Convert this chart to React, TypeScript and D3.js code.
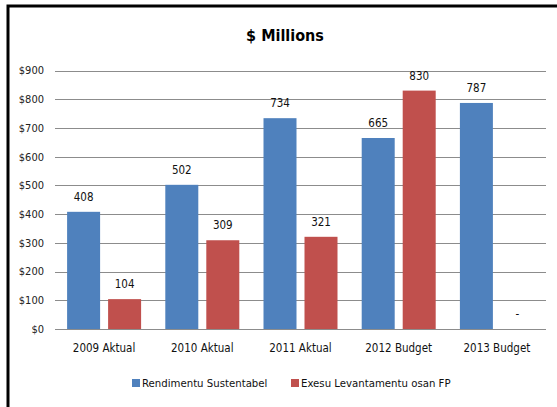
import React, { useEffect, useRef } from 'react';
import * as d3 from 'd3';

const categories = ['2009 Aktual', '2010 Aktual', '2011 Aktual', '2012 Budget', '2013 Budget'];
const seriesNames = ['Rendimentu Sustentabel', 'Exesu Levantamentu osan FP'];
const rendimentu = [408, 502, 734, 665, 787];
const exesu: (number | null)[] = [104, 309, 321, 830, null];
const yTicks = [0, 100, 200, 300, 400, 500, 600, 700, 800, 900];
const colors = ['#4F81BD', '#C0504D'];

const FONT = "'Liberation Sans Narrow', 'DejaVu Sans Condensed', sans-serif";

export default function App() {
  const svgRef = useRef<SVGSVGElement>(null);

  useEffect(() => {
    if (!svgRef.current) return;
    const W = 557, H = 407;
    const svg = d3.select(svgRef.current);
    svg.selectAll('*').remove();

    svg.append('rect').attr('width', W).attr('height', H).attr('fill', 'white');
    // frame
    svg.append('rect')
      .attr('x', 8).attr('y', 6)
      .attr('width', W + 20).attr('height', H + 20)
      .attr('fill', 'none').attr('stroke', 'black').attr('stroke-width', 3);

    const margin = { left: 55, right: 11 };
    const x0 = d3.scaleBand<string>().domain(categories).range([margin.left, W - margin.right]).paddingInner(0).paddingOuter(0);
    const y = d3.scaleLinear().domain([0, 900]).range([329, 70.5]);

    // title
    svg.append('text')
      .attr('x', 285).attr('y', 41)
      .attr('text-anchor', 'middle')
      .attr('font-family', FONT)
      .attr('font-weight', 'bold')
      .attr('font-size', 16)
      .text('$ Millions');

    // gridlines and y labels
    const grid = svg.append('g');
    yTicks.forEach(t => {
      grid.append('line')
        .attr('x1', margin.left).attr('x2', W - margin.right)
        .attr('y1', Math.round(y(t)) + 0.5).attr('y2', Math.round(y(t)) + 0.5)
        .attr('stroke', '#8c8c8c').attr('stroke-width', 1);
      grid.append('text')
        .attr('x', 44).attr('y', y(t)).attr('dy', '0.35em')
        .attr('text-anchor', 'end')
        .attr('font-family', FONT).attr('font-size', 11)
        .attr('fill', '#222')
        .text('$' + t);
    });

    const bw = 33, gap = 8;
    const step = x0.bandwidth();
    const offset = (step - (2 * bw + gap)) / 2;
    const series = [rendimentu, exesu];

    series.forEach((vals, si) => {
      const g = svg.append('g');
      vals.forEach((v, i) => {
        const bx = (x0(categories[i]) || 0) + offset + si * (bw + gap);
        if (v != null) {
          g.append('rect')
            .attr('x', bx).attr('y', y(v))
            .attr('width', bw).attr('height', y(0) - y(v))
            .attr('fill', colors[si]);
        }
        g.append('text')
          .attr('x', bx + bw / 2)
          .attr('y', v != null ? y(v) - 11 : y(0) - 11)
          .attr('text-anchor', 'middle')
          .attr('font-family', FONT).attr('font-size', 11.5)
          .attr('fill', '#111')
          .text(v != null ? String(v) : '-');
      });
    });

    // category labels
    categories.forEach(c => {
      svg.append('text')
        .attr('x', (x0(c) || 0) + step / 2).attr('y', 352)
        .attr('text-anchor', 'middle')
        .attr('font-family', FONT).attr('font-size', 11.5)
        .attr('fill', '#111')
        .text(c);
    });

    // legend
    const legendX = [132, 291];
    seriesNames.forEach((name, i) => {
      svg.append('rect')
        .attr('x', legendX[i]).attr('y', 379)
        .attr('width', 8).attr('height', 8)
        .attr('fill', colors[i]);
      svg.append('text')
        .attr('x', legendX[i] + 10).attr('y', 387)
        .attr('font-family', FONT).attr('font-size', 11.3)
        .attr('fill', '#111')
        .text(name);
    });
  }, []);

  return (
    <svg ref={svgRef} width={557} height={407}
      style={{ position: 'absolute', left: 0, top: 0, display: 'block' }} />
  );
}
